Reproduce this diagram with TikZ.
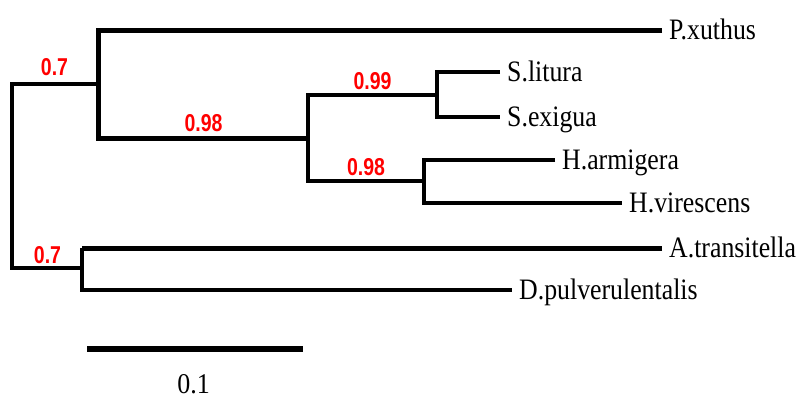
\documentclass[tikz,border=0pt]{standalone}
\usepackage{fontspec}
\setmainfont{Liberation Serif}
\newfontfamily\supfont{Liberation Sans}
\usepackage{graphicx}
\begin{document}
\begin{tikzpicture}[x=1pt,y=-1pt,
  branch/.style={line width=4pt,line join=miter,line cap=butt},
  thickbranch/.style={line width=5pt,line join=miter,line cap=butt},
  leaf/.style={anchor=base west,inner sep=0pt,xshift=7pt,yshift=-9pt,
    font=\fontsize{25.8}{28}\selectfont},
  support/.style={text=red,inner sep=0pt,font=\supfont\bfseries\fontsize{19.5}{22}\selectfont},
  scalelbl/.style={inner sep=0pt,font=\fontsize{26}{28}\selectfont}]
\useasboundingbox (0,0) rectangle (799,402);
% leaf tips
\coordinate (tP) at (662,30);
\coordinate (tSl) at (500,72);
\coordinate (tSe) at (500,117);
\coordinate (tHa) at (555,160);
\coordinate (tHv) at (622,203);
\coordinate (tAt) at (662,248);
\coordinate (tDp) at (512,290);
% internal nodes
\coordinate (root) at (12,176);
\coordinate (nU) at (98,84);
\coordinate (nL) at (82,268);
\coordinate (n1) at (308,138);
\coordinate (n2) at (437,95);
\coordinate (n3) at (424,181);
% leaf labels
\node[leaf] (P) at (tP) {\scalebox{1}[1.15]{P.xuthus}};
\node[leaf] (Sl) at (tSl) {\scalebox{1}[1.15]{S.litura}};
\node[leaf] (Se) at (tSe) {\scalebox{1}[1.15]{S.exigua}};
\node[leaf] (Ha) at (tHa) {\scalebox{1}[1.15]{H.armigera}};
\node[leaf] (Hv) at (tHv) {\scalebox{1}[1.15]{H.virescens}};
\node[leaf] (At) at (tAt) {\scalebox{1}[1.15]{A.transitella}};
\node[leaf] (Dp) at (tDp) {\scalebox{1}[1.15]{D.pulverulentalis}};
% branches
\draw[branch] (nU) -- (root |- nU) -- (root |- nL) -- (nL);
\draw[thickbranch] (tP) -- (nU |- tP) -- (nU |- n1) -- (n1);
\draw[branch] (n2) -- (n1 |- n2) -- (n1 |- n3) -- (n3);
\draw[branch] (tSl) -- (n2 |- tSl) -- (n2 |- tSe) -- (tSe);
\draw[branch] (tHa) -- (n3 |- tHa) -- (n3 |- tHv) -- (tHv);
\draw[thickbranch] (tAt) -- (nL |- tAt);
\draw[branch] (nL |- tAt) -- (nL |- tDp) -- (tDp);
% support values
\node[support] (s1) at (54.5,67.5) {\scalebox{1}[1.25]{0.7}};
\node[support] (s2) at (203.5,123.5) {\scalebox{1}[1.25]{0.98}};
\node[support] (s3) at (372.5,81) {\scalebox{1}[1.25]{0.99}};
\node[support] (s4) at (366,167.5) {\scalebox{1}[1.25]{0.98}};
\node[support] (s5) at (47.5,255) {\scalebox{1}[1.25]{0.7}};
% scale bar
\coordinate (sbL) at (87,349);
\coordinate (sbR) at (303,349);
\draw[line width=5.5pt] (sbL) -- (sbR);
\node[scalelbl] (sbl) at (193.5,384) {\scalebox{1}[1.1]{0.1}};
\end{tikzpicture}
\end{document}
